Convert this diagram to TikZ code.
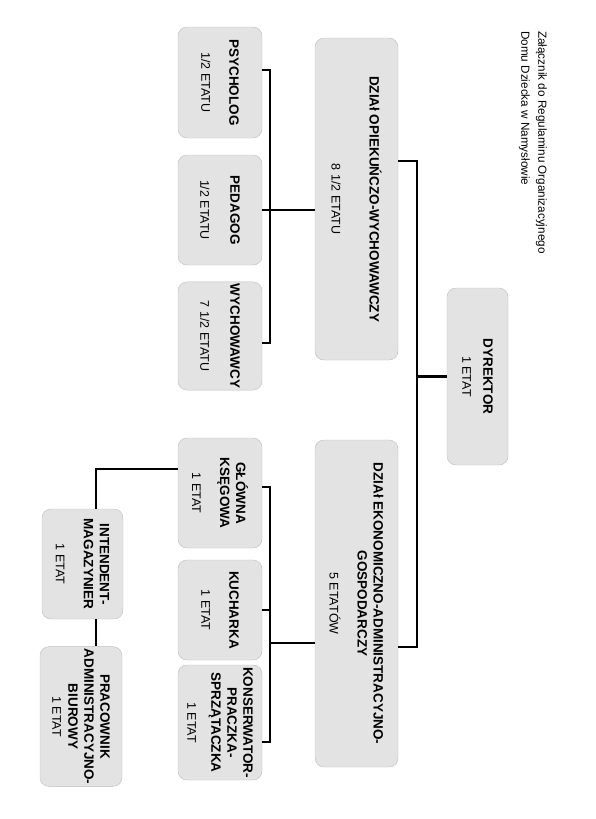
\documentclass[tikz,border=0pt]{standalone}
\usepackage{fontspec}
\setmainfont{Liberation Sans}
\usetikzlibrary{positioning,calc}
\definecolor{boxgray}{HTML}{E3E3E3}
\definecolor{edgegray}{HTML}{BDBDBD}
\newcommand\etat[1]{{\fontsize{12.5}{15}\selectfont\mdseries #1}}

\begin{document}
\begin{tikzpicture}[x=1pt, y=-1pt,
  unit/.style={draw=edgegray, fill=boxgray, rounded corners=9pt, rotate=-90,
    align=center, inner sep=2pt, font=\fontsize{13.5}{16}\selectfont\bfseries},
  link/.style={line width=2.6pt}]
  \useasboundingbox (0,0) rectangle (595,819);

  % Header
  \node[rotate=-90, anchor=north west, inner sep=0pt, align=left,
    font=\fontsize{11.7}{17}\selectfont] (head) at (547,31)
    {Załącznik do Regulaminu Organizacyjnego\\Domu Dziecka w Namysłowie};

  % Director and departments
  \node[unit, minimum width=177pt, minimum height=61pt] (dyr) at (477.5,376.5)
    {DYREKTOR\\[5pt]\etat{1 ETAT}};
  \node[unit, minimum width=322pt, minimum height=83pt] (opiek) at (356.5,199)
    {DZIAł OPIEKUŃCZO-WYCHOWAWCZY\\[22pt]\etat{8 1/2 ETATU}};
  \node[unit, minimum width=327pt, minimum height=83pt] (ekon) at (356.5,603.5)
    {DZIAł EKONOMICZNO-ADMINISTRACYJNO-\\GOSPODARCZY\\[12pt]\etat{5 ETATÓW}};

  % Care staff
  \node[unit, minimum width=111pt, minimum height=84pt] (psych) at (220,82.5)
    {PSYCHOLOG\\[12pt]\etat{1/2 ETATU}};
  \node[unit, minimum width=110pt, minimum height=84pt] (pedag) at (220,210)
    {PEDAGOG\\[14pt]\etat{1/2 ETATU}};
  \node[unit, minimum width=108pt, minimum height=84pt] (wych) at (220,336)
    {WYCHOWAWCY\\[14pt]\etat{7 1/2 ETATU}};

  % Economic staff
  \node[unit, minimum width=110pt, minimum height=84pt] (glow) at (220,493)
    {GŁÓWNA\\KSĘGOWA\\[12pt]\etat{1 ETAT}};
  \node[unit, minimum width=100pt, minimum height=84pt] (kuch) at (220,610)
    {KUCHARKA\\[12pt]\etat{1 ETAT}};
  \node[unit, minimum width=110pt, minimum height=84pt] (kons) at (220,722.5)
    {KONSERWATOR-\\PRACZKA-\\SPRZĄTACZKA\\[8pt]\etat{1 ETAT}};
  \node[unit, minimum width=110pt, minimum height=81pt] (int) at (82.5,564)
    {INTENDENT-\\MAGAZYNIER\\[12pt]\etat{1 ETAT}};
  \node[unit, minimum width=137pt, minimum height=82pt] (prac) at (81,716.5)
    {PRACOWNIK\\ADMINISTRACYJNO-\\BIUROWY\\\etat{1 ETAT}};

  % Trunk
  \coordinate (tr1) at (417,161);
  \coordinate (tr2) at (417,647);
  \draw[link] (opiek.north |- tr1) -- (tr1) -- (tr2) -- (ekon.north |- tr2);
  \draw[link] (dyr.south) -- (dyr.south -| tr1);

  % Care bus
  \coordinate (ob1) at (270,70);
  \coordinate (ob2) at (270,343);
  \draw[link] (psych.north |- ob1) -- (ob1) -- (ob2) -- (wych.north |- ob2);
  \draw[link] (pedag.north) -- (pedag.north -| opiek.south);

  % Economic bus
  \coordinate (eb1) at (270,487);
  \coordinate (eb2) at (270,742);
  \coordinate (ej) at (270,643);
  \draw[link] (glow.north |- eb1) -- (eb1) -- (eb2) -- (kons.north |- eb2);
  \draw[link] (kuch.north) -- (kuch.north -| eb1);
  \draw[link] (ej) -- (ekon.south |- ej);

  % Stores
  \coordinate (ig) at (96,469);
  \draw[link] (glow.south |- ig) -- (ig) -- (ig |- int.west);
  \draw[link] (int.east -| ig) -- (prac.west -| ig);
\end{tikzpicture}
\end{document}
